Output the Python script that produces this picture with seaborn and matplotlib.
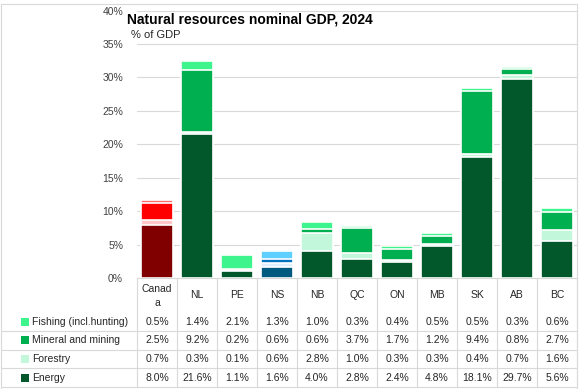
import matplotlib
matplotlib.use("Agg")
import matplotlib.pyplot as plt
from matplotlib.patches import Rectangle
import seaborn as sns
import pandas as pd
import numpy as np

# ---------------- data ----------------
regions = ["Canada", "NL", "PE", "NS", "NB", "QC", "ON", "MB", "SK", "AB", "BC"]
header_labels = ["Canad\na", "NL", "PE", "NS", "NB", "QC", "ON", "MB", "SK", "AB", "BC"]
series_names = ["Fishing (incl.hunting)", "Mineral and mining", "Forestry", "Energy"]
fishing = [0.5, 1.4, 2.1, 1.3, 1.0, 0.3, 0.4, 0.5, 0.5, 0.3, 0.6]
mineral = [2.5, 9.2, 0.2, 0.6, 0.6, 3.7, 1.7, 1.2, 9.4, 0.8, 2.7]
forestry = [0.7, 0.3, 0.1, 0.6, 2.8, 1.0, 0.3, 0.3, 0.4, 0.7, 1.6]
energy = [8.0, 21.6, 1.1, 1.6, 4.0, 2.8, 2.4, 4.8, 18.1, 29.7, 5.6]
yticks = [0, 5, 10, 15, 20, 25, 30, 35, 40]
title = "Natural resources nominal GDP, 2024"
subtitle = "% of GDP"

# colours: green default, red for Canada, blue for NS
green = {"Fishing": "#3DF58C", "Mineral": "#00B050", "Forestry": "#C3F7DB", "Energy": "#03582B"}
red = {"Fishing": "#FF6B6B", "Mineral": "#FF0000", "Forestry": "#FFC7C7", "Energy": "#800000"}
blue = {"Fishing": "#5FCFFF", "Mineral": "#0070C0", "Forestry": "#DDEFFF", "Energy": "#005A80"}

def palette(layer):
    pal = {}
    for r in regions:
        if r == "Canada":
            pal[r] = red[layer]
        elif r == "NS":
            pal[r] = blue[layer]
        else:
            pal[r] = green[layer]
    return pal

df = pd.DataFrame({"region": regions, "Fishing": fishing, "Mineral": mineral,
                   "Forestry": forestry, "Energy": energy})
df["c_energy"] = df["Energy"]
df["c_forestry"] = df["c_energy"] + df["Forestry"]
df["c_mineral"] = df["c_forestry"] + df["Mineral"]
df["c_fishing"] = df["c_mineral"] + df["Fishing"]

# ---------------- figure ----------------
sns.set_style("white")
plt.rcParams['font.family'] = ['Liberation Sans', 'DejaVu Sans']

W, H = 582, 391
fig = plt.figure(figsize=(W / 100, H / 100), dpi=100)
left_px, right_px, top_px, base_px = 137, 577, 10.6, 278
ax = fig.add_axes([left_px / W, 1 - base_px / H, (right_px - left_px) / W, (base_px - top_px) / H])

for col, layer in [("c_fishing", "Fishing"), ("c_mineral", "Mineral"),
                   ("c_forestry", "Forestry"), ("c_energy", "Energy")]:
    sns.barplot(data=df, x="region", y=col, hue="region", order=regions, hue_order=regions,
                palette=palette(layer), saturation=1, width=0.82, edgecolor="white",
                linewidth=1.2, legend=False, ax=ax, zorder=3)

ax.set_xlim(-0.5, len(regions) - 0.5)
ax.set_ylim(0, 40)
ax.set_yticks(yticks)
ax.set_yticklabels([f"{t}%" for t in yticks], fontsize=7.5, color="#404040")
ax.tick_params(axis="y", length=0, pad=10)
ax.tick_params(axis="x", length=0, labelbottom=False)
ax.set_xlabel("")
ax.set_ylabel("")
ax.yaxis.grid(True, color="#D9D9D9", linewidth=0.8)
ax.set_axisbelow(True)
for s in ["left", "top", "right"]:
    ax.spines[s].set_visible(False)
ax.spines["bottom"].set_color("#D9D9D9")
ax.spines["bottom"].set_linewidth(0.8)
ax.patch.set_alpha(0)

# ---------------- overlay: title, table ----------------
ov = fig.add_axes([0, 0, 1, 1])
ov.set_xlim(0, W)
ov.set_ylim(H, 0)
ov.axis("off")
ov.patch.set_alpha(0)

ov.text(127, 20, title, fontsize=10, fontweight="bold", va="center", ha="left", color="#000000")
ov.text(131, 34.5, subtitle, fontsize=8, va="center", ha="left", color="#262626")

line_c = "#D9D9D9"
col_w = (right_px - left_px) / len(regions)
# outer border
ov.plot([1, right_px], [4, 4], color=line_c, lw=0.8)
ov.plot([1, 1], [4, 387.5], color=line_c, lw=0.8)
ov.plot([right_px, right_px], [4, 387.5], color=line_c, lw=0.8)
# table grid
row_y = [321.7, 340.3, 359.0, 377.7]
for yl in [331.0, 349.6, 368.3, 387.3]:
    ov.plot([1, right_px], [yl, yl], color=line_c, lw=0.8)
for k in range(len(regions) + 1):
    xk = left_px + k * col_w
    ov.plot([xk, xk], [base_px, 387.3], color=line_c, lw=0.8)

# headers
for i, lab in enumerate(header_labels):
    cx = left_px + (i + 0.5) * col_w
    ov.text(cx, 295.5, lab, fontsize=7.5, ha="center", va="center", color="#262626",
            linespacing=1.5)

series_vals = [fishing, mineral, forestry, energy]
legend_cols = [green["Fishing"], green["Mineral"], green["Forestry"], green["Energy"]]
for name, vals, c, y in zip(series_names, series_vals, legend_cols, row_y):
    ov.add_patch(Rectangle((21, y - 4), 8, 8, facecolor=c, edgecolor="none"))
    ov.text(32, y, name, fontsize=7.5, ha="left", va="center", color="#262626")
    for i, v in enumerate(vals):
        cx = left_px + (i + 0.5) * col_w
        ov.text(cx, y, f"{v:.1f}%", fontsize=7.5, ha="center", va="center", color="#262626")

fig.savefig("out.png", dpi=100)
